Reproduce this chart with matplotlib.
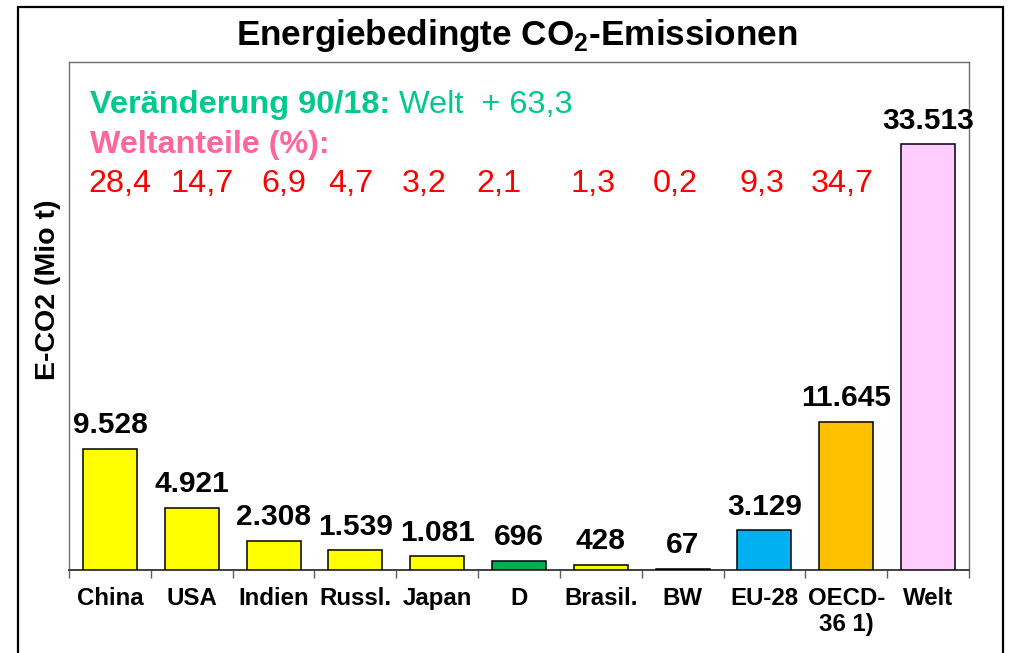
import numpy as np
import matplotlib
matplotlib.use("Agg")
import matplotlib.pyplot as plt
from matplotlib.patches import Rectangle

plt.rcParams['font.family'] = ['Liberation Sans', 'DejaVu Sans']
plt.rcParams['mathtext.fontset'] = 'custom'
plt.rcParams['mathtext.rm'] = 'Liberation Sans'
plt.rcParams['mathtext.bf'] = 'Liberation Sans:bold'

# data
categories = ['China', 'USA', 'Indien', 'Russl.', 'Japan', 'D', 'Brasil.', 'BW',
              'EU-28', 'OECD-\n36 1)', 'Welt']
emissions = [9528, 4921, 2308, 1539, 1081, 696, 428, 67, 3129, 11645, 33513]
value_labels = ['9.528', '4.921', '2.308', '1.539', '1.081', '696', '428', '67',
                '3.129', '11.645', '33.513']
colors = ['#FFFF00', '#FFFF00', '#FFFF00', '#FFFF00', '#FFFF00', '#00B050',
          '#FFFF00', '#FFFF00', '#00B0F0', '#FFC000', '#FFCCFF']
world_shares = ['28,4', '14,7', '6,9', '4,7', '3,2', '2,1', '1,3', '0,2', '9,3', '34,7']
# x placement of the share numbers (in category units)
share_x = [0.12, 1.13, 2.12, 2.95, 3.84, 4.76, 5.91, 6.91, 7.97, 8.95]

fig = plt.figure(figsize=(10.09, 6.53), dpi=100)
ax = fig.add_axes([69/1009, 1 - 570/653, 900/1009, 508/653])

x = np.arange(len(categories))
ax.bar(x, emissions, width=0.66, color=colors, edgecolor='black', linewidth=1.1, zorder=3)

for xi, v, lab in zip(x, emissions, value_labels):
    ax.annotate(lab, (xi, v), xytext=(0, 7), textcoords='offset points',
                ha='center', va='bottom', fontsize=21.5, fontweight='bold')

ax.set_xlim(-0.5, len(categories) - 0.5)
ax.set_ylim(0, 40000)
ax.set_yticks([])
ax.set_xticks(x)
ax.set_xticklabels(categories, fontsize=17.3, fontweight='bold')
ax.tick_params(axis='x', which='major', length=0, pad=12)
ax.set_xticks(np.arange(-0.5, len(categories)), minor=True)
ax.tick_params(axis='x', which='minor', length=6, width=1.0, color='#606060', direction='out')

for s in ['left', 'top', 'right']:
    ax.spines[s].set_color('#707070')
    ax.spines[s].set_linewidth(1.0)
ax.spines['bottom'].set_color('#404040')
ax.spines['bottom'].set_linewidth(1.4)

# annotation lines inside the plot
t1 = fig.text(90/1009, 1 - 113/653, 'Veränderung 90/18:', fontsize=23.4, fontweight='bold',
              color='#00C98D', va='baseline')
ax.annotate(' Welt  + 63,3', xy=(1, 0), xycoords=t1, ha='left', va='bottom',
            fontsize=23.4, color='#00C98D')
fig.text(90/1009, 1 - 153/653, 'Weltanteile (%):', fontsize=23.2, fontweight='bold',
         color='#FF6699', va='baseline')
share_y = 1 - (192 - 62) / 508
for sx, sh in zip(share_x, world_shares):
    ax.text(sx, share_y, sh, fontsize=23.3, color='#FF0000', ha='center', va='baseline',
            transform=ax.get_xaxis_transform())

fig.text(48/1009, 1 - 290/653, 'E-CO2 (Mio t)', rotation=90, fontsize=20.5,
         fontweight='bold', ha='center', va='center')

fig.text(517/1009, 1 - 36/653, r'Energiebedingte CO$_\mathbf{2}$-Emissionen',
         fontsize=25.3, fontweight='bold', ha='center', va='center')

# outer frame
fig.patches.append(Rectangle((18/1009, -0.1), 985/1009, 1.1 - 7/653, transform=fig.transFigure,
                             fill=False, edgecolor='black', linewidth=1.6, clip_on=False))

fig.savefig('out.png', dpi=100)
